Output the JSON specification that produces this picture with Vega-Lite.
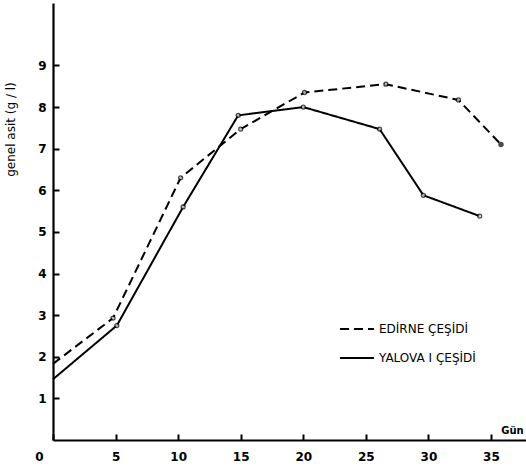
{
  "$schema": "https://vega.github.io/schema/vega-lite/v6.json",
  "autosize": {"type": "none"},
  "width": 473,
  "height": 437,
  "padding": {"left": 53, "top": 3, "right": 0, "bottom": 35},
  "background": "white",
  "config": {
    "view": {"stroke": null},
    "font": "DejaVu Sans",
    "axis": {"domainColor": "black", "domainWidth": 2.2, "tickColor": "black", "tickWidth": 2, "labelColor": "black", "titleColor": "black", "grid": false, "labelFont": "DejaVu Sans", "labelFontWeight": "bold", "labelFontSize": 12}
  },
  "data": {"values": [
    {"series": "EDİRNE ÇEŞİDİ", "day": 0, "v": 1.83},
    {"series": "EDİRNE ÇEŞİDİ", "day": 4.8, "v": 2.93},
    {"series": "EDİRNE ÇEŞİDİ", "day": 10.2, "v": 6.3},
    {"series": "EDİRNE ÇEŞİDİ", "day": 15.0, "v": 7.47},
    {"series": "EDİRNE ÇEŞİDİ", "day": 20.1, "v": 8.35},
    {"series": "EDİRNE ÇEŞİDİ", "day": 26.6, "v": 8.55},
    {"series": "EDİRNE ÇEŞİDİ", "day": 32.4, "v": 8.17},
    {"series": "EDİRNE ÇEŞİDİ", "day": 35.8, "v": 7.1},
    {"series": "YALOVA I ÇEŞİDİ", "day": 0, "v": 1.46},
    {"series": "YALOVA I ÇEŞİDİ", "day": 5.1, "v": 2.75},
    {"series": "YALOVA I ÇEŞİDİ", "day": 10.4, "v": 5.6},
    {"series": "YALOVA I ÇEŞİDİ", "day": 14.8, "v": 7.8},
    {"series": "YALOVA I ÇEŞİDİ", "day": 20.0, "v": 8.0},
    {"series": "YALOVA I ÇEŞİDİ", "day": 26.1, "v": 7.47},
    {"series": "YALOVA I ÇEŞİDİ", "day": 29.6, "v": 5.88},
    {"series": "YALOVA I ÇEŞİDİ", "day": 34.1, "v": 5.38}
  ]},
  "encoding": {
    "x": {"field": "day", "type": "quantitative", "scale": {"domain": [0, 37.8], "nice": false},
      "axis": {"values": [0, 5, 10, 15, 20, 25, 30, 35], "tickSize": -6, "labelPadding": 17,
        "labelAlign": {"condition": {"test": "datum.value == 0", "value": "right"}, "value": "center"},
        "labelOffset": {"condition": {"test": "datum.value == 0", "value": -10}, "value": 0},
        "title": "Gün", "titleFontSize": 10, "titleFontWeight": "bold", "titleX": 459, "titleY": -10, "titleAnchor": "middle", "titleBaseline": "middle"}},
    "y": {"field": "v", "type": "quantitative", "scale": {"domain": [0, 10.5], "nice": false},
      "axis": {"values": [1, 2, 3, 4, 5, 6, 7, 8, 9], "tickSize": -6, "labelPadding": 13,
        "title": "genel asit (g / l)", "titleFontSize": 12, "titleFontWeight": "normal", "titleX": -43, "titleY": 126, "titleAnchor": "middle", "titleAngle": -90, "titleBaseline": "middle"}}
  },
  "layer": [
    {
      "mark": {"type": "line", "color": "black", "strokeWidth": 2},
      "encoding": {
        "strokeDash": {"field": "series", "type": "nominal",
          "scale": {"domain": ["EDİRNE ÇEŞİDİ", "YALOVA I ÇEŞİDİ"], "range": [[9, 5], [1, 0]]},
          "legend": {"title": null, "orient": "none", "legendX": 286, "legendY": 308, "symbolType": "stroke", "symbolSize": 1150, "symbolStrokeWidth": 2, "symbolStrokeColor": "black", "labelFont": "DejaVu Sans", "labelFontSize": 12, "labelFontWeight": "normal", "labelColor": "black", "rowPadding": 5, "labelOffset": 4}}
      }
    },
    {
      "transform": [{"filter": "datum.day > 0 && datum.day < 35.5"}],
      "mark": {"type": "point", "shape": "circle", "filled": true, "fill": "white", "stroke": "black", "strokeWidth": 1.3, "size": 16}
    },
    {
      "transform": [{"filter": "datum.day > 35.5"}],
      "mark": {"type": "point", "shape": "circle", "filled": true, "color": "black", "size": 30}
    }
  ]
}
